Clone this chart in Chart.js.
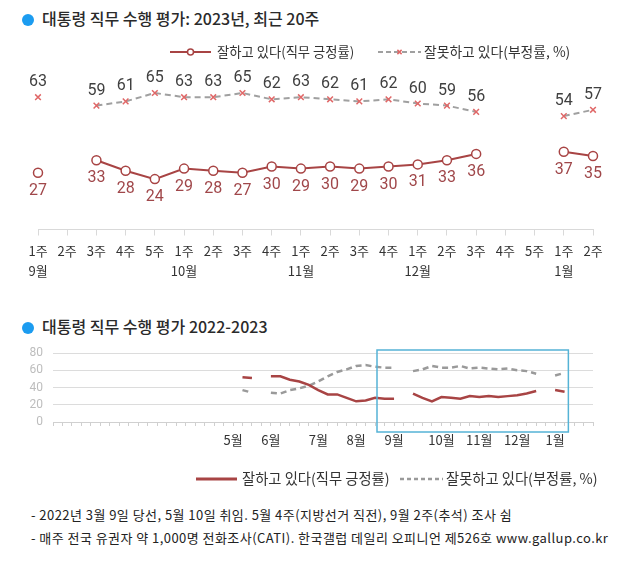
<!DOCTYPE html>
<html><head><meta charset="utf-8">
<script src="https://cdn.jsdelivr.net/npm/chart.js@4.4.0/dist/chart.umd.min.js"></script>
<style>
html,body{margin:0;padding:0;background:#fff;}
body{width:630px;height:561px;position:relative;overflow:hidden;font-family:"Noto Sans CJK KR","Noto Sans",sans-serif;color:#222;}
.title{position:absolute;left:22px;font-size:16px;font-weight:500;color:#2a2a2a;white-space:nowrap;line-height:20px;}
.title .dot{display:inline-block;width:12px;height:12px;border-radius:50%;background:#1c9cf0;margin-right:8px;vertical-align:-1px;}
.note{position:absolute;left:31px;font-size:13px;letter-spacing:0.45px;color:#222;white-space:nowrap;line-height:18px;}
canvas{position:absolute;left:0;}
</style></head>
<body>
<div class="title" style="top:8px"><span class="dot"></span>대통령 직무 수행 평가: 2023년, 최근 20주</div>
<canvas id="c1" width="630" height="260" style="top:35px"></canvas>
<div class="title" style="top:316px"><span class="dot"></span>대통령 직무 수행 평가 2022-2023</div>
<canvas id="c2" width="630" height="160" style="top:335px"></canvas>
<div class="note" style="top:506px">- 2022년 3월 9일 당선, 5월 10일 취임. 5월 4주(지방선거 직전), 9월 2주(추석) 조사 쉼</div>
<div class="note" style="top:529px">- 매주 전국 유권자 약 1,000명 전화조사(CATI). 한국갤럽 데일리 오피니언 제526호 www.gallup.co.kr</div>
<script>
// ---------- data: recent 20 weeks ----------
const weekLabels  = ['1주','2주','3주','4주','5주','1주','2주','3주','4주','1주','2주','3주','4주','1주','2주','3주','4주','5주','1주','2주'];
const monthLabels = ['9월','','','','','10월','','','','11월','','','','12월','','','','','1월',''];
const positive = [27,null,33,28,24,29,28,27,30,29,30,29,30,31,33,36,null,null,37,35];
const negative = [63,null,59,61,65,63,63,65,62,63,62,61,62,60,59,56,null,null,54,57];

// ---------- data: 2022-2023 trend (weekly categories) ----------
const trendMonthNames = ['5월','6월','7월','8월','9월','10월','11월','12월','1월'];
const trendMonthIndex = [19,23,28,32,36,41,45,49,53];
const trendCount = 58;
const trendPositive = [null,null,null,null,null,null,null,null,null,null,null,null,null,null,null,null,null,null,null,null,
  52,51,null,53,53,49,47,43,37,32,32,28,24,25,28,27,27,null,
  33,28,24,29,28,27,30,29,30,29,30,31,33,36,null,37,35,null,null,null];
const trendNegative = [null,null,null,null,null,null,null,null,null,null,null,null,null,null,null,null,null,null,null,null,
  37,34,null,34,33,37,39,42,47,53,58,61,65,66,64,63,63,null,
  59,61,65,63,63,65,62,63,62,61,62,60,59,56,null,54,57,null,null,null];
const highlightRange = [34.2, 54.4];
const yTicks = [0,20,40,60,80];

const FONT = '"Noto Sans CJK KR","Noto Sans",sans-serif';
const NUMFONT = 'Roboto,"Noto Sans",sans-serif';
const RED = '#a84444';
const XRED = '#e06868';
const GRAY = '#a0a0a0';

const topLabels = weekLabels.map((w,i)=>[w, monthLabels[i]]);
const trendLabels = Array.from({length:trendCount},()=> '');
trendMonthIndex.forEach((idx,k)=>{ trendLabels[idx] = trendMonthNames[k]; });

const valueLabels = {
  id:'valueLabels',
  afterDatasetsDraw(chart){
    const ctx = chart.ctx;
    chart.data.datasets.forEach((ds,di)=>{
      if(ds.labelOffset === undefined) return;
      const meta = chart.getDatasetMeta(di);
      meta.data.forEach((pt,i)=>{
        const v = ds.data[i];
        if(v === null || v === undefined) return;
        ctx.save();
        ctx.font = '16px ' + NUMFONT;
        ctx.fillStyle = ds.labelColor;
        ctx.textAlign = 'center';
        ctx.textBaseline = 'middle';
        ctx.fillText(String(v), pt.x, pt.y + ds.labelOffset);
        ctx.restore();
      });
    });
  }
};

function legendItem(ctx, x0, x1, y, color, width, dash, point, pointColor, text, tx, size){
  ctx.save();
  ctx.strokeStyle = color; ctx.lineWidth = width; ctx.setLineDash(dash);
  ctx.beginPath(); ctx.moveTo(x0,y); ctx.lineTo(x1,y); ctx.stroke();
  ctx.setLineDash([]);
  if(point){
    ctx.fillStyle = '#fff'; ctx.strokeStyle = pointColor; ctx.lineWidth = 1.5;
    Chart.helpers.drawPoint(ctx,{pointStyle:point,radius:3,borderWidth:1.5},(x0+x1)/2,y);
  }
  ctx.fillStyle = '#333'; ctx.font = size + 'px ' + FONT; ctx.textAlign='left'; ctx.textBaseline='middle';
  ctx.fillText(text, tx, y);
  ctx.restore();
}

const topLegend = {
  id:'topLegend',
  afterDraw(chart){
    const ctx = chart.ctx;
    const ds = chart.data.datasets;
    legendItem(ctx,170,211,17,RED,2,[],'circle',RED,ds[0].label,217,13.3);
    legendItem(ctx,378,421,17,GRAY,2,[5,3],'crossRot',XRED,ds[1].label,424,13.8);
  }
};

new Chart(document.getElementById('c1'),{
  type:'line',
  data:{labels:topLabels,datasets:[
    {label:'잘하고 있다(직무 긍정률)',data:positive,borderColor:RED,borderWidth:2,tension:0,spanGaps:false,
     pointStyle:'circle',pointRadius:4.5,pointBackgroundColor:'#fff',pointBorderColor:RED,pointBorderWidth:1.5,
     labelColor:'#a0474a',labelOffset:18},
    {label:'잘못하고 있다(부정률, %)',data:negative,borderColor:GRAY,borderWidth:2,borderDash:[6,4],tension:0,spanGaps:false,
     pointStyle:'crossRot',pointRadius:4,pointBorderColor:XRED,pointBackgroundColor:XRED,pointBorderWidth:1.5,
     labelColor:'#404040',labelOffset:-15}
  ]},
  options:{
    responsive:false, animation:false, devicePixelRatio:1,
    layout:{padding:{left:38,right:37,top:26.5,bottom:0}},
    plugins:{legend:{display:false},tooltip:{enabled:false}},
    scales:{
      x:{offset:false,
         grid:{drawOnChartArea:false,drawTicks:true,tickLength:6,color:'#d9d9d9'},
         border:{color:'#d9d9d9'},
         ticks:{autoSkip:false,maxRotation:0,padding:6,color:'#333',font:{size:13,family:FONT,lineHeight:20/13}},
         afterFit(s){ s.height = 65.5; }},
      y:{display:false,min:0,max:80}
    }
  },
  plugins:[valueLabels,topLegend]
});

const trendExtras = {
  id:'trendExtras',
  afterDraw(chart){
    const ctx = chart.ctx, xs = chart.scales.x, a = chart.chartArea;
    const l = xs.getPixelForValue(highlightRange[0]);
    const r = xs.getPixelForValue(highlightRange[1]);
    ctx.save();
    ctx.strokeStyle = '#55b3d6'; ctx.lineWidth = 1.5;
    ctx.strokeRect(l, a.top - 3, r - l, a.bottom - a.top + 13);
    ctx.restore();
    const ds = chart.data.datasets;
    legendItem(ctx,196,237,144,RED,3,[],null,null,ds[0].label,242,14.3);
    legendItem(ctx,400,443,144,'#9a9a9a',2.5,[4,3],null,null,ds[1].label,446,14.3);
  }
};

new Chart(document.getElementById('c2'),{
  type:'line',
  data:{labels:trendLabels,datasets:[
    {label:'잘하고 있다(직무 긍정률)',data:trendPositive,borderColor:RED,borderWidth:2.5,pointRadius:0,tension:0,spanGaps:false},
    {label:'잘못하고 있다(부정률, %)',data:trendNegative,borderColor:'#9a9a9a',borderWidth:2.5,borderDash:[6,4],pointRadius:0,tension:0,spanGaps:false}
  ]},
  options:{
    responsive:false, animation:false, devicePixelRatio:1,
    layout:{padding:{left:0,right:37,top:18,bottom:0}},
    plugins:{legend:{display:false},tooltip:{enabled:false}},
    scales:{
      x:{offset:false,
         grid:{drawOnChartArea:false,drawTicks:true,tickLength:4,color:'#cfcfcf'},
         border:{color:'#d0d0d0'},
         ticks:{autoSkip:false,maxRotation:0,padding:6,color:'#333',font:{size:13,family:FONT}},
         afterFit(s){ s.height = 73; }},
      y:{min:0,max:80,
         afterBuildTicks(s){ s.ticks = yTicks.map(v=>({value:v})); },
         grid:{color:'#dcdcdc',drawTicks:false},
         border:{display:false},
         ticks:{autoSkip:false,padding:10,color:'#bdbdbd',font:{size:12,family:NUMFONT}},
         afterFit(s){ s.width = 53; }}
    }
  },
  plugins:[trendExtras]
});
</script>
</body></html>
